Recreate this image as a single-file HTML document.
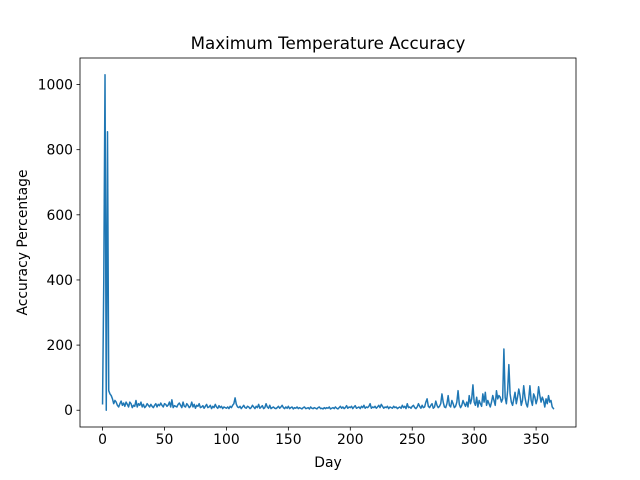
<!DOCTYPE html>
<html><head><meta charset="utf-8"><style>
body{margin:0;background:#fff}
svg{display:block;font-family:"DejaVu Sans","Liberation Sans",sans-serif}
</style></head><body>
<svg id="c" width="640" height="480"></svg>
<script>
const days=[];
const accuracy=[
20,400,1030,0,855,60,50,45,35,20,30,25,15,10,20,28,15,22,12,25,
18,10,25,20,8,15,12,30,10,20,15,25,10,18,8,12,20,15,10,18,
12,8,15,20,10,18,14,22,15,10,20,18,12,16,25,10,32,8,14,12,
10,18,22,15,8,25,12,10,20,15,8,12,25,10,18,6,15,12,20,8,
10,14,6,12,18,8,10,15,5,12,8,18,10,6,14,8,12,5,10,8,
6,10,5,12,8,15,20,38,18,10,8,12,5,10,15,8,6,12,10,5,
8,15,10,5,12,8,18,6,10,14,5,8,20,10,6,15,5,8,10,6,
5,8,12,6,10,15,8,5,10,6,12,5,8,10,4,8,6,10,5,8,
6,4,8,10,5,6,8,4,10,6,5,8,6,4,8,10,5,6,4,8,
5,8,6,10,4,6,8,5,10,6,4,8,12,6,10,5,8,14,6,10,
8,12,5,10,14,6,8,10,5,12,8,15,6,10,8,12,20,6,10,8,
12,6,10,15,8,18,12,6,10,8,12,5,10,8,6,12,8,10,5,8,
10,6,15,8,12,5,20,8,10,6,12,15,8,5,10,20,12,6,15,8,
10,25,35,12,8,15,20,6,10,28,15,8,12,20,50,25,10,8,20,45,
15,10,30,20,8,12,25,60,18,8,15,30,20,12,25,10,45,20,35,78,
25,15,40,10,30,20,12,50,25,55,
15,30,20,10,25,45,30,15,60,35,
45,40,25,35,188,40,20,60,140,50,
25,15,35,55,20,40,65,45,15,30,
75,40,20,10,35,75,30,15,50,40,
20,35,72,45,25,40,30,10,35,20,
45,25,30,10,5];
for(let i=0;i<accuracy.length;i++)days.push(i);
const xTicks=[0,50,100,150,200,250,300,350];
const yTicks=[0,200,400,600,800,1000];

const L=80,R=576,T=58,B=427;
const xmin=Math.min(...days),xmax=Math.max(...days),xm=(xmax-xmin)*0.05;
const ymin=Math.min(...accuracy),ymax=Math.max(...accuracy),ym=(ymax-ymin)*0.05;
const sx=v=>L+(v-(xmin-xm))/((xmax+xm)-(xmin-xm))*(R-L);
const sy=v=>B-(v-(ymin-ym))/((ymax+ym)-(ymin-ym))*(B-T);
const svg=document.getElementById('c');
const NS='http://www.w3.org/2000/svg';
function mk(tag,attrs,text){const e=document.createElementNS(NS,tag);for(const k in attrs)e.setAttribute(k,attrs[k]);if(text!==undefined)e.textContent=text;svg.appendChild(e);return e;}

const t=mk('text',{x:(L+R)/2,y:49,'text-anchor':'middle','font-size':'16.7'},'Maximum Temperature Accuracy');



let d='';
days.forEach((x,i)=>{d+=(i?'L':'M')+sx(x).toFixed(2)+' '+sy(accuracy[i]).toFixed(2);});
const line=mk('path',{d:d,fill:'none',stroke:'#1f77b4','stroke-width':1.5,'stroke-linejoin':'round','stroke-linecap':'square'});



const frame=mk('rect',{x:L,y:T,width:R-L,height:B-T,fill:'none',stroke:'#000','stroke-width':0.8});



xTicks.forEach(v=>{
  const x=sx(v);
  const tk=mk('line',{x1:x,x2:x,y1:B,y2:B+3.5,stroke:'#000','stroke-width':0.8});
  
  
  const lb=mk('text',{x:x,y:B+17,'text-anchor':'middle','font-size':'13.9'},String(v));
  
  
});
yTicks.forEach(v=>{
  const y=sy(v);
  const tk=mk('line',{x1:L-3.5,x2:L,y1:y,y2:y,stroke:'#000','stroke-width':0.8});
  
  
  const lb=mk('text',{x:L-7,y:y+5,'text-anchor':'end','font-size':'13.9'},String(v));
  
  
});
const xl=mk('text',{x:(L+R)/2,y:467,'text-anchor':'middle','font-size':'13.9'},'Day');


const yl=mk('text',{x:27,y:(T+B)/2,'text-anchor':'middle','font-size':'13.9',transform:'rotate(-90 27 '+((T+B)/2)+')'},'Accuracy Percentage');


</script>
</body></html>
